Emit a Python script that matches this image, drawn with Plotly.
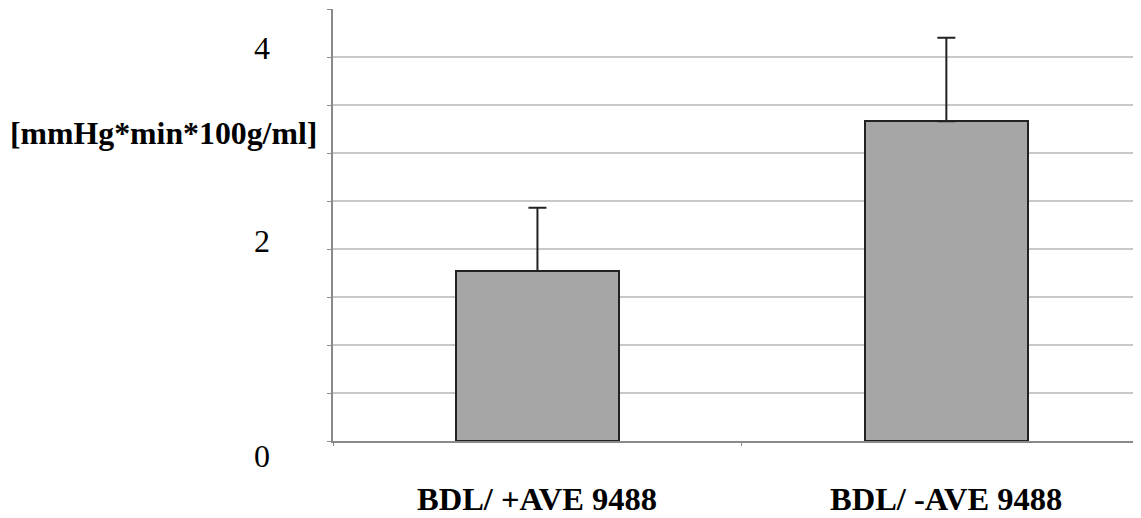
import plotly.graph_objects as go

categories = ["BDL/ +AVE 9488", "BDL/ -AVE 9488"]
values = [1.77, 3.33]
errors_plus = [0.66, 0.87]
y_tick_values = [4, 2, 0]
y_tick_labels = ["4", "2", "0"]
y_title = "[mmHg*min*100g/ml]"

fig = go.Figure()
fig.add_trace(go.Bar(
    x=categories, y=values, width=0.4,
    marker=dict(color="#a6a6a6", line=dict(color="#222222", width=2)),
    error_y=dict(type="data", symmetric=False, array=errors_plus,
                 arrayminus=[0, 0], color="#222222", thickness=2, width=9),
))

serif = "Liberation Serif"
annotations = []
tick_shifts = [9, 8, -15]
for v, t, s in zip(y_tick_values, y_tick_labels, tick_shifts):
    annotations.append(dict(x=0, xref="paper", xshift=-71, xanchor="center",
                            y=v, yref="y", yshift=s, yanchor="middle",
                            text=t, showarrow=False,
                            font=dict(family=serif, size=32, color="#000")))
for c in categories:
    annotations.append(dict(x=c, xref="x", y=0, yref="y", yshift=-58,
                            xanchor="center", yanchor="middle", text="<b>" + c + "</b>",
                            showarrow=False,
                            font=dict(family=serif, size=32.5, color="#000")))
annotations.append(dict(x=0, xref="paper", xshift=-14, xanchor="right",
                        y=3.2, yref="y", yanchor="middle",
                        text="<b>" + y_title + "</b>", showarrow=False,
                        font=dict(family=serif, size=31.8, color="#000")))

fig.update_layout(
    width=1133, height=510,
    margin=dict(l=325, r=0, t=1, b=77),
    paper_bgcolor="white", plot_bgcolor="white",
    showlegend=False,
    annotations=annotations,
    bargap=0,
)
fig.update_xaxes(range=[-0.5, 1.476], showline=True, linecolor="#8a8a8a", linewidth=2,
                 showgrid=False, ticks="outside", tickson="boundaries", ticklen=3,
                 tickcolor="#8a8a8a", showticklabels=False, zeroline=False)
fig.update_yaxes(range=[0, 4.5], dtick=0.5, tick0=0, showline=True, linecolor="#8a8a8a",
                 linewidth=2, showgrid=True, gridcolor="#c8c8c8", gridwidth=2,
                 ticks="outside", ticklen=4, tickcolor="#8a8a8a",
                 showticklabels=False, zeroline=False)

fig.write_html("out.html")
